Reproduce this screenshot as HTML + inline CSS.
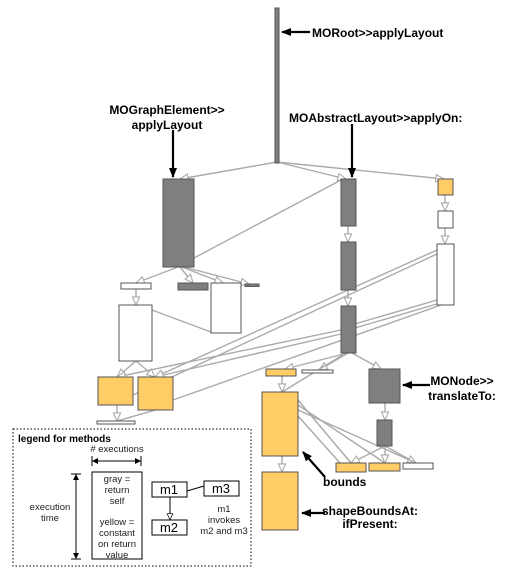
<!DOCTYPE html>
<html><head><meta charset="utf-8"><style>
body{margin:0;background:#fff}
svg{display:block}
text{font-family:"Liberation Sans",sans-serif}
</style></head><body>
<svg width="509" height="577" viewBox="0 0 509 577" xmlns="http://www.w3.org/2000/svg">
<defs>
<marker id="h" viewBox="0 0 10 10" refX="10" refY="5" markerWidth="9" markerHeight="9" orient="auto" markerUnits="userSpaceOnUse"><path d="M1,1 L10,5 L1,9 Z" fill="#fff" stroke="#aaa" stroke-width="1.2"/></marker>
<marker id="b" viewBox="0 0 10 10" refX="9" refY="5" markerWidth="10" markerHeight="10" orient="auto" markerUnits="userSpaceOnUse"><path d="M0,1 L10,5 L0,9 Z" fill="#000"/></marker>
<marker id="k" viewBox="0 0 10 10" refX="10" refY="5" markerWidth="7" markerHeight="7" orient="auto" markerUnits="userSpaceOnUse"><path d="M1,1 L10,5 L1,9 Z" fill="#fff" stroke="#000" stroke-width="1"/></marker>
</defs>
<rect width="509" height="577" fill="#fff"/>
<g stroke="#aaa" stroke-width="1.4" fill="none">
<line x1="277" y1="162" x2="180" y2="179" marker-end="url(#h)"/>
<line x1="277" y1="162" x2="346" y2="179" marker-end="url(#h)"/>
<line x1="277" y1="162" x2="444" y2="179" marker-end="url(#h)"/>
<line x1="348" y1="226" x2="348" y2="242" marker-end="url(#h)"/>
<line x1="348" y1="290" x2="348" y2="306" marker-end="url(#h)"/>
<line x1="341" y1="180" x2="194" y2="258"/>
<line x1="445" y1="195" x2="445" y2="211" marker-end="url(#h)"/>
<line x1="445" y1="228" x2="445" y2="244" marker-end="url(#h)"/>
<line x1="178" y1="267" x2="136" y2="283" marker-end="url(#h)"/>
<line x1="180" y1="267" x2="193" y2="283" marker-end="url(#h)"/>
<line x1="182" y1="267" x2="223" y2="283" marker-end="url(#h)"/>
<line x1="184" y1="267" x2="249" y2="284" marker-end="url(#h)"/>
<line x1="136" y1="289" x2="136" y2="305" marker-end="url(#h)"/>
<line x1="152" y1="310" x2="211" y2="332"/>
<line x1="136" y1="361" x2="117" y2="377" marker-end="url(#h)"/>
<line x1="136" y1="361" x2="155" y2="377" marker-end="url(#h)"/>
<line x1="341" y1="330" x2="117" y2="377" marker-end="url(#h)"/>
<line x1="341" y1="334" x2="155" y2="377" marker-end="url(#h)"/>
<line x1="437" y1="250" x2="155" y2="377" marker-end="url(#h)"/>
<line x1="437" y1="254" x2="133" y2="395"/>
<line x1="437" y1="300" x2="341" y2="328"/>
<line x1="437" y1="304" x2="341" y2="332"/>
<line x1="441" y1="305" x2="173" y2="400"/>
<line x1="117" y1="405" x2="117" y2="421" marker-end="url(#h)"/>
<line x1="173" y1="405" x2="117" y2="421"/>
<line x1="348" y1="353" x2="285" y2="369" marker-end="url(#h)"/>
<line x1="348" y1="353" x2="319" y2="370" marker-end="url(#h)"/>
<line x1="352" y1="353" x2="381" y2="369" marker-end="url(#h)"/>
<line x1="346" y1="353" x2="282" y2="392"/>
<line x1="282" y1="376" x2="282" y2="392" marker-end="url(#h)"/>
<line x1="385" y1="403" x2="385" y2="420" marker-end="url(#h)"/>
<line x1="385" y1="446" x2="351" y2="463" marker-end="url(#h)"/>
<line x1="385" y1="446" x2="385" y2="463" marker-end="url(#h)"/>
<line x1="385" y1="446" x2="416" y2="463" marker-end="url(#h)"/>
<line x1="298" y1="400" x2="351" y2="463"/>
<line x1="298" y1="405" x2="385" y2="463"/>
<line x1="298" y1="410" x2="416" y2="463"/>
<line x1="298" y1="416" x2="340" y2="463"/>
<line x1="282" y1="456" x2="282" y2="472" marker-end="url(#h)"/>
</g>
<g stroke="#555" stroke-width="1">
<rect x="275" y="8" width="4" height="155" fill="#7f7f7f"/>
<rect x="163" y="179" width="31" height="88" fill="#7f7f7f"/>
<rect x="341" y="179" width="15" height="47" fill="#7f7f7f"/>
<rect x="341" y="242" width="15" height="48" fill="#7f7f7f"/>
<rect x="341" y="306" width="15" height="47" fill="#7f7f7f"/>
<rect x="438" y="179" width="15" height="16" fill="#ffcc66"/>
<rect x="438" y="211" width="15" height="17" fill="#fff"/>
<rect x="437" y="244" width="17" height="61" fill="#fff"/>
<rect x="121" y="283" width="30" height="6" fill="#fff"/>
<rect x="178" y="283" width="30" height="7" fill="#7f7f7f"/>
<rect x="211" y="283" width="30" height="50" fill="#fff"/>
<rect x="245" y="284" width="14" height="2.5" fill="#7f7f7f"/>
<rect x="119" y="305" width="33" height="56" fill="#fff"/>
<rect x="98" y="377" width="35" height="28" fill="#ffcc66"/>
<rect x="138" y="377" width="35" height="33" fill="#ffcc66"/>
<rect x="97" y="421" width="38" height="3" fill="#fff"/>
<rect x="266" y="369" width="30" height="7" fill="#ffcc66"/>
<rect x="302" y="370" width="31" height="3" fill="#fff"/>
<rect x="369" y="369" width="31" height="34" fill="#7f7f7f"/>
<rect x="262" y="392" width="36" height="64" fill="#ffcc66"/>
<rect x="377" y="420" width="15" height="26" fill="#7f7f7f"/>
<rect x="336" y="463" width="30" height="9" fill="#ffcc66"/>
<rect x="369" y="463" width="31" height="8" fill="#ffcc66"/>
<rect x="403" y="463" width="30" height="6" fill="#fff"/>
<rect x="262" y="472" width="36" height="58" fill="#ffcc66"/>
</g>
<g stroke="#000" stroke-width="2.2" fill="none">
<line x1="310" y1="32" x2="282" y2="32" marker-end="url(#b)"/>
<line x1="173" y1="130" x2="173" y2="177" marker-end="url(#b)"/>
<line x1="352" y1="124" x2="352" y2="177" marker-end="url(#b)"/>
<line x1="430" y1="385" x2="403" y2="385" marker-end="url(#b)"/>
<line x1="325" y1="477" x2="303" y2="452" marker-end="url(#b)"/>
<line x1="325" y1="513" x2="302" y2="513" marker-end="url(#b)"/>
</g>
<g font-size="12" font-weight="bold" fill="#000">
<text x="312" y="37">MORoot&gt;&gt;applyLayout</text>
<text x="167" y="114" text-anchor="middle">MOGraphElement&gt;&gt;</text>
<text x="167" y="129" text-anchor="middle">applyLayout</text>
<text x="289" y="122">MOAbstractLayout&gt;&gt;applyOn:</text>
<text x="462" y="385" text-anchor="middle">MONode&gt;&gt;</text>
<text x="462" y="400" text-anchor="middle">translateTo:</text>
<text x="323" y="486">bounds</text>
<text x="370" y="515" text-anchor="middle">shapeBoundsAt:</text>
<text x="370" y="528" text-anchor="middle">ifPresent:</text>
</g>
<rect x="13" y="429" width="238" height="137" fill="none" stroke="#000" stroke-width="1" stroke-dasharray="1.5,2"/>
<text x="18" y="442" font-size="10" font-weight="bold">legend for methods</text>
<g stroke="#000" stroke-width="1" fill="#fff">
<rect x="92" y="472" width="50" height="87"/>
<rect x="152" y="482" width="35" height="15"/>
<rect x="204" y="481" width="35" height="15"/>
<rect x="152" y="520" width="35" height="15"/>
<line x1="92" y1="461" x2="141" y2="461"/>
<line x1="92" y1="456" x2="92" y2="466"/>
<line x1="141" y1="456" x2="141" y2="466"/>
<line x1="76" y1="474" x2="76" y2="559"/>
<line x1="71" y1="474" x2="81" y2="474"/>
<line x1="71" y1="559" x2="81" y2="559"/>
<line x1="187" y1="491" x2="204" y2="486"/>
<line x1="170" y1="497" x2="170" y2="520" marker-end="url(#k)"/>
</g>
<g fill="#000">
<path d="M92,461 l6,-3 v6z M141,461 l-6,-3 v6z M76,474 l-3,6 h6z M76,559 l-3,-6 h6z"/>
</g>
<g font-size="9.5" fill="#222" text-anchor="middle">
<text x="117" y="452">#  executions</text>
<text x="50" y="510">execution</text>
<text x="50" y="521">time</text>
<text x="117" y="482">gray =</text>
<text x="117" y="493">return</text>
<text x="117" y="504">self</text>
<text x="117" y="525">yellow =</text>
<text x="117" y="536">constant</text>
<text x="117" y="547">on return</text>
<text x="117" y="558">value</text>
<text x="224" y="512">m1</text>
<text x="224" y="523">invokes</text>
<text x="224" y="534">m2 and m3</text>
</g>
<g font-size="13" fill="#000" text-anchor="middle">
<text x="169" y="494">m1</text>
<text x="221" y="493">m3</text>
<text x="169" y="532">m2</text>
</g>
</svg>
</body></html>
